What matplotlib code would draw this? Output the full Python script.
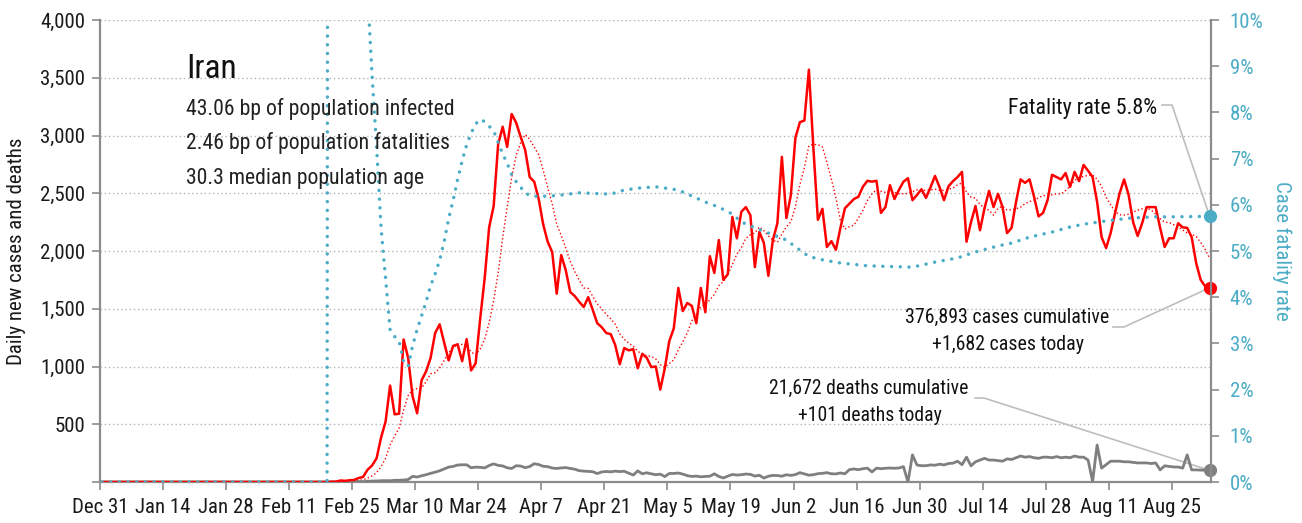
import numpy as np
import pandas as pd
import matplotlib
matplotlib.use("Agg")
import matplotlib.pyplot as plt
from matplotlib.lines import Line2D
from matplotlib import font_manager as fm

# ---------------- font choice: a condensed sans if one is installed ----------------
def pick_condensed():
    prefs = ["Liberation Sans Narrow", "Roboto Condensed", "Open Sans Condensed",
             "Noto Sans", "DejaVu Sans", "Roboto", "Open Sans", "Lato", "Inter"]
    found = []
    for f in fm.fontManager.ttflist:
        st = f.stretch
        is_cond = ("Narrow" in f.name or "Condensed" in f.name or
                   (isinstance(st, str) and "condensed" in st) or
                   (isinstance(st, (int, float)) and st < 500))
        if is_cond and str(f.style) == "normal" and f.weight in (400, "normal", "regular", "book"):
            found.append(f)
    for p in prefs:
        for f in found:
            if f.name == p:
                return f
    return found[0] if found else None


cf = pick_condensed()
if cf is not None:
    FONT = fm.FontProperties(fname=cf.fname)
    SCALE = 1.0
else:
    FONT = fm.FontProperties(family=["Liberation Sans", "DejaVu Sans"])
    SCALE = 0.86

# ---------------- data ----------------
axis_start = "2019-12-31"
first_case_date = "2020-02-20"
last_date = "2020-09-02"

# daily new cases, Feb 20 .. Sep 2
cases_feb = [2, 3, 13, 10, 15, 18, 34, 44, 106, 143]
cases_mar = [205, 385, 523, 835, 586, 591, 1234, 1076, 743, 595, 881, 958, 1075, 1289, 1365, 1209,
             1053, 1178, 1192, 1046, 1237, 966, 1028, 1411, 1762, 2206, 2389, 2926, 3076, 2901, 3186]
cases_apr = [3110, 2987, 2875, 2640, 2600, 2450, 2230, 2080, 1990, 1630, 1965, 1835, 1645, 1610, 1560,
             1515, 1600, 1490, 1375, 1340, 1290, 1280, 1185, 1020, 1160, 1140, 1150, 985, 1110, 1075]
cases_may = [995, 1000, 800, 985, 1220, 1330, 1680, 1480, 1550, 1525, 1375, 1680, 1470, 1955, 1810,
             2095, 1750, 1800, 2295, 2110, 2340, 2380, 2310, 1860, 2165, 2070, 1785, 2095, 2240, 2815, 2285]
cases_jun = [2485, 2980, 3115, 3130, 3570, 2890, 2270, 2365, 2035, 2085, 2010, 2200, 2370, 2410, 2450,
             2470, 2557, 2608, 2600, 2608, 2330, 2380, 2570, 2450, 2530, 2600, 2630, 2440, 2485, 2535]
cases_jul = [2460, 2550, 2650, 2555, 2440, 2560, 2605, 2640, 2685, 2080, 2250, 2390, 2180, 2370, 2520,
             2380, 2495, 2380, 2155, 2200, 2425, 2620, 2590, 2620, 2470, 2300, 2330, 2440, 2660, 2640, 2620]
cases_aug = [2675, 2555, 2685, 2605, 2745, 2695, 2640, 2425, 2120, 2025, 2155, 2330, 2500, 2620, 2485,
             2250, 2130, 2240, 2380, 2380, 2380, 2200, 2035, 2110, 2110, 2240, 2205, 2200, 2120, 1895, 1750]
cases_sep = [1695, 1682]

# daily deaths, Feb 20 .. Sep 2
deaths_feb = [2, 0, 2, 1, 3, 4, 4, 3, 7, 8]
deaths_mar = [9, 11, 12, 11, 15, 15, 17, 21, 49, 43, 54, 63, 75, 85, 97, 113, 129, 135, 147, 149, 149,
              123, 129, 127, 122, 143, 157, 144, 139, 123, 117]
deaths_apr = [141, 138, 124, 134, 158, 151, 136, 133, 121, 117, 122, 125, 117, 111, 98, 94, 92, 89, 73,
              87, 91, 88, 94, 90, 93, 76, 60, 96, 71, 80]
deaths_may = [71, 63, 68, 47, 74, 74, 78, 68, 55, 48, 51, 45, 48, 50, 71, 48, 35, 51, 65, 60, 63, 69,
              66, 51, 58, 34, 50, 57, 56, 50, 63]
deaths_jun = [57, 64, 81, 70, 59, 63, 72, 75, 81, 71, 70, 78, 71, 107, 113, 107, 115, 120, 87, 120,
              115, 119, 121, 119, 121, 133, 0, 235, 147, 141]
deaths_jul = [141, 148, 145, 154, 148, 160, 163, 180, 150, 215, 140, 175, 190, 205, 190, 190, 185, 180,
              200, 195, 210, 225, 215, 220, 210, 205, 215, 215, 210, 220, 210]
deaths_aug = [215, 210, 225, 215, 215, 190, 5, 320, 120, 150, 180, 180, 180, 175, 175, 170, 165, 165,
              165, 160, 165, 105, 140, 135, 130, 130, 120, 235, 105, 105, 103]
deaths_sep = [102, 101]

# case fatality rate (%), read at selected dates
cfr_dates = ["2019-12-31", "2020-02-19", "2020-02-20", "2020-02-21", "2020-02-22", "2020-02-23",
             "2020-02-24", "2020-02-25", "2020-02-26", "2020-02-27", "2020-02-28", "2020-02-29",
             "2020-03-01", "2020-03-02", "2020-03-03", "2020-03-04", "2020-03-05", "2020-03-06",
             "2020-03-07", "2020-03-08", "2020-03-09", "2020-03-10", "2020-03-11", "2020-03-12",
             "2020-03-13", "2020-03-14", "2020-03-15", "2020-03-16", "2020-03-17", "2020-03-18",
             "2020-03-19", "2020-03-20", "2020-03-21", "2020-03-22", "2020-03-23", "2020-03-24",
             "2020-03-25", "2020-03-26", "2020-03-27", "2020-03-28", "2020-03-29", "2020-03-30",
             "2020-03-31", "2020-04-01", "2020-04-02", "2020-04-03", "2020-04-04", "2020-04-06",
             "2020-04-10", "2020-04-15", "2020-04-22", "2020-04-25", "2020-04-28", "2020-05-02",
             "2020-05-07", "2020-05-10", "2020-05-13", "2020-05-16", "2020-05-19", "2020-05-21",
             "2020-05-24", "2020-05-27", "2020-05-31", "2020-06-02", "2020-06-05", "2020-06-08",
             "2020-06-12", "2020-06-18", "2020-06-28", "2020-07-03", "2020-07-08", "2020-07-12",
             "2020-07-17", "2020-07-20", "2020-07-24", "2020-07-29", "2020-08-02", "2020-08-05",
             "2020-08-10", "2020-08-15", "2020-08-21", "2020-08-25", "2020-09-02"]
cfr_values = [0, 0, 100, 40, 22, 18, 18.6, 19.7, 16.8, 13.7, 10.6, 8.8,
              7.25, 5.5, 4.4, 3.3, 3.15, 3.05,
              2.6, 2.5, 2.95, 3.3, 3.6, 3.9,
              4.25, 4.5, 4.8, 5.2, 5.7, 6.1,
              6.55, 6.95, 7.3, 7.55, 7.75, 7.85,
              7.8, 7.7, 7.6, 7.35, 7.1, 6.9,
              6.65, 6.5, 6.38, 6.26, 6.2, 6.18,
              6.2, 6.26, 6.23, 6.32, 6.36, 6.39,
              6.32, 6.19, 6.06, 5.95, 5.8, 5.63,
              5.5, 5.39, 5.24, 5.09, 4.88, 4.81,
              4.74, 4.68, 4.65, 4.76, 4.85, 4.98,
              5.11, 5.17, 5.3, 5.41, 5.52, 5.58,
              5.65, 5.71, 5.74, 5.74, 5.75]

x_tick_step_days = 14
country = "Iran"
stats_lines = ["43.06 bp of population infected",
               "2.46 bp of population fatalities",
               "30.3 median population age"]
cum_cases = 376893
cum_deaths = 21672
fatality_rate_label = 5.8

# ---------------- build series ----------------
case_vals = (cases_feb + cases_mar + cases_apr + cases_may + cases_jun + cases_jul
             + cases_aug + cases_sep)
death_vals = (deaths_feb + deaths_mar + deaths_apr + deaths_may + deaths_jun + deaths_jul
              + deaths_aug + deaths_sep)
all_dates = pd.date_range(axis_start, last_date, freq="D")
lead = len(pd.date_range(axis_start, first_case_date, freq="D")) - 1
cases_full = pd.Series([0] * lead + case_vals, index=all_dates, dtype=float)
deaths_full = pd.Series([0] * lead + death_vals, index=all_dates, dtype=float)
cases_avg = cases_full.rolling(7, min_periods=1).mean()
cfr_idx = pd.to_datetime(cfr_dates)

shift = pd.Timedelta(hours=10)

W, H = 1302, 523
fig = plt.figure(figsize=(W / 100, H / 100), dpi=100)
L, R, T, B = 100, 1211, 20, 482
ax = fig.add_axes([L / W, 1 - B / H, (R - L) / W, (B - T) / H])
ax2 = ax.twinx()

RED = "#ff0000"
BLUE = "#4bacc6"
GRAY = "#7f7f7f"
SPINE = "#8c8c8c"
INK = "#1a1a1a"


def fp(size):
    p = FONT.copy()
    p.set_size(size * SCALE)
    return p


x = all_dates + shift
ax.plot(x, cases_avg.values, color=RED, lw=1.0, ls=(0, (1, 1.7)), zorder=3)
ax.plot(x, deaths_full.values, color=GRAY, lw=2.0, zorder=3, solid_joinstyle="round")
ax.plot(x, cases_full.values, color=RED, lw=1.8, zorder=4, solid_joinstyle="round")
ax.plot(x[-1], cases_full.values[-1], "o", color=RED, ms=8.5, zorder=5, clip_on=False)
ax.plot(x[-1], deaths_full.values[-1], "o", color=GRAY, ms=8.5, zorder=5, clip_on=False)

ax2.plot(cfr_idx + shift, cfr_values, color=BLUE, lw=2.5, ls=(0, (0.01, 2.5)),
         dash_capstyle="round", zorder=3)
ax2.plot(cfr_idx[-1] + shift, cfr_values[-1], "o", color=BLUE, ms=8.5, zorder=5, clip_on=False)

x0 = pd.Timestamp(axis_start)
x1 = pd.Timestamp(last_date) + pd.Timedelta(hours=17)
ax.set_xlim(x0, x1)
ax.set_ylim(0, 4000)
ax2.set_ylim(0, 10)

ticks = pd.date_range(axis_start, last_date, freq=f"{x_tick_step_days}D")
ax.set_xticks(ticks)
ax.set_xticklabels([f"{d:%b} {d.day}" for d in ticks], fontproperties=fp(15), color=INK)
ax.set_yticks(np.arange(0, 4001, 500))
ax.set_yticklabels([""] + [f"{v:,}" for v in range(500, 4001, 500)], fontproperties=fp(15),
                   color=INK)
ax2.set_yticks(np.arange(0, 11, 1))
ax2.set_yticklabels([f"{v}%" for v in range(0, 11)], fontproperties=fp(15), color=BLUE)

for a in (ax, ax2):
    for s in a.spines.values():
        s.set_visible(False)
ax.spines["left"].set_visible(True)
ax.spines["bottom"].set_visible(True)
ax2.spines["right"].set_visible(True)
for s in (ax.spines["left"], ax.spines["bottom"], ax2.spines["right"]):
    s.set_color(SPINE)
    s.set_linewidth(1.6)

ax.tick_params(axis="x", length=5.5, width=1.2, color=SPINE, pad=6)
ax.tick_params(axis="y", length=5.5, width=1.2, color=SPINE, pad=5)
ax2.tick_params(axis="y", length=5.5, width=1.2, color=SPINE, pad=8)

for v in range(500, 4001, 500):
    ax.axhline(v, color="#b4b4b4", lw=1.0, ls=(0, (1, 2)), zorder=1)

ax.set_ylabel("Daily new cases and deaths", fontproperties=fp(15), color=INK, labelpad=10)
ax2.set_ylabel("Case fatality rate", fontproperties=fp(15), color=BLUE, rotation=270,
               labelpad=20)


def fx(px):
    return px / W


def fy(py):
    return 1 - py / H


fig.text(fx(186), fy(78), country, fontproperties=fp(24), color="#111111", va="baseline")
for i, line in enumerate(stats_lines):
    fig.text(fx(186), fy(115 + 34.5 * i), line, fontproperties=fp(15.7), color="#222222",
             va="baseline")

fig.text(fx(1157), fy(114), f"Fatality rate {fatality_rate_label}%", fontproperties=fp(15.8),
         color="#111111", ha="right", va="baseline")
fig.text(fx(1007), fy(323), f"{cum_cases:,} cases cumulative", fontproperties=fp(14.3),
         color="#111111", ha="center", va="baseline")
fig.text(fx(1008), fy(350), f"+{case_vals[-1]:,} cases today", fontproperties=fp(14.3),
         color="#111111", ha="center", va="baseline")
fig.text(fx(869), fy(394), f"{cum_deaths:,} deaths cumulative", fontproperties=fp(14.2),
         color="#111111", ha="center", va="baseline")
fig.text(fx(870), fy(421), f"+{death_vals[-1]:,} deaths today", fontproperties=fp(14.2),
         color="#111111", ha="center", va="baseline")

fig.canvas.draw()


def leader(axis, p_start, p_knee, xy_end):
    inv = axis.transData.inverted()
    s = inv.transform((p_start[0], H - p_start[1]))
    k = inv.transform((p_knee[0], H - p_knee[1]))
    xs_num = [s[0], k[0], matplotlib.dates.date2num(xy_end[0])]
    ys = [s[1], k[1], xy_end[1]]
    axis.add_line(Line2D(xs_num, ys, color="#bdbdbd", lw=1.2, clip_on=False, zorder=2))


leader(ax2, (1162, 105), (1172, 105), (cfr_idx[-1] + shift, cfr_values[-1]))
leader(ax, (1113, 327), (1124, 327), (x[-1], cases_full.values[-1]))
leader(ax, (975, 398), (984, 398), (x[-1], deaths_full.values[-1]))

fig.savefig("out.png", dpi=100)
